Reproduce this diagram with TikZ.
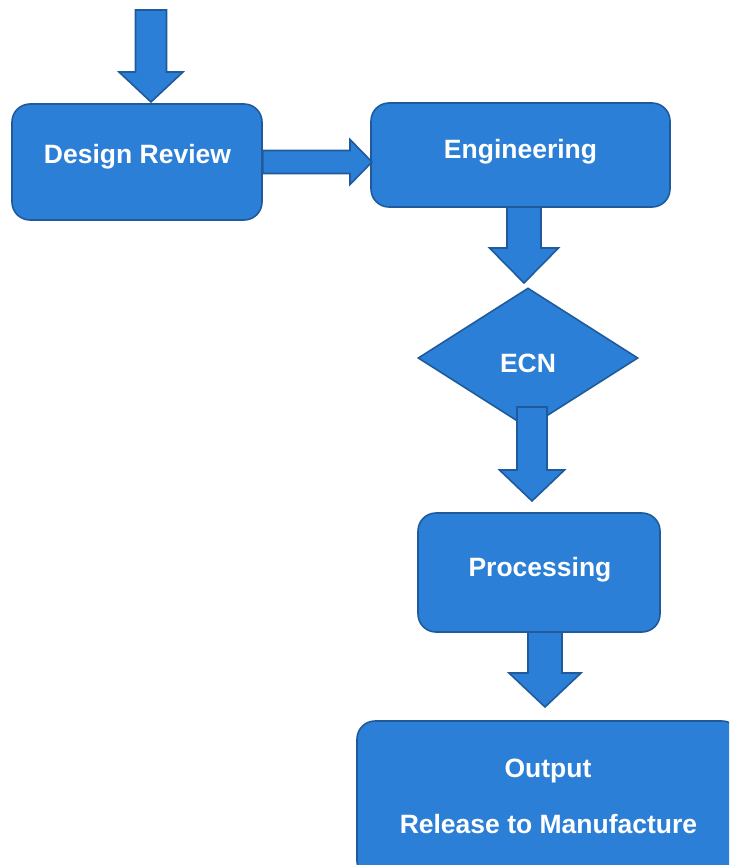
\documentclass[tikz,border=0pt]{standalone}
\usepackage{fontspec}
\setmainfont{Liberation Sans}
\usetikzlibrary{calc,shapes.geometric}

\definecolor{boxfill}{RGB}{43,127,214}
\definecolor{boxline}{RGB}{31,91,156}

% Block arrow from #1 (tail) to #2 (tip);
% #3 shaft half-width, #4 head half-width, #5 head length
\newcommand\blockarrow[5]{%
  \coordinate (ba-neck) at ($(#2)!#5!(#1)$);
  \draw[blockarrow]
    ($(#1)!#3!90:(#2)$) -- ($(ba-neck)!#3!90:(#2)$) --
    ($(ba-neck)!#4!90:(#2)$) -- (#2) --
    ($(ba-neck)!#4!-90:(#2)$) -- ($(ba-neck)!#3!-90:(#2)$) --
    ($(#1)!#3!-90:(#2)$) -- cycle;
}

\tikzset{
  shapebase/.style={draw=boxline, fill=boxfill, line width=1.6pt, inner sep=0pt},
  procbox/.style={shapebase, rectangle, rounded corners=18pt},
  decbox/.style={shapebase, diamond},
  blockarrow/.style={draw=boxline, fill=boxfill, line width=1.6pt, line join=miter},
  lbl/.style={anchor=base, text=white, inner sep=0pt,
    font=\bfseries\fontsize{26.5}{30}\selectfont},
}

\begin{document}
\begin{tikzpicture}[x=1pt, y=-1pt]
  \useasboundingbox (0,0) rectangle (729,865);
  \clip (0,0) rectangle (729,865);

  % process boxes and the decision
  \node[procbox, minimum width=250pt, minimum height=116pt] (dr)   at (137,162) {};
  \node[procbox, minimum width=299pt, minimum height=104pt] (eng)  at (520.5,155) {};
  \node[decbox,  minimum width=220pt, minimum height=140pt] (ecn)  at (528,358) {};
  \node[procbox, minimum width=242pt, minimum height=119pt] (proc) at (539,572.5) {};
  \node[procbox, minimum width=383pt, minimum height=158pt] (out)  at (548.5,800) {};

  % labels
  \node[lbl] (t-dr)   at (137.5,163) {Design Review};
  \node[lbl] (t-eng)  at (520.5,158) {Engineering};
  \node[lbl] (t-ecn)  at (528,372)   {ECN};
  \node[lbl] (t-proc) at (540,576)   {Processing};
  \node[lbl] (t-out1) at (548,777)   {Output};
  \node[lbl] (t-out2) at (548.5,833) {Release to Manufacture};

  % arrow end points
  \coordinate (in)      at (151,10);
  \coordinate (dr-in)   at (151,102);
  \coordinate (dr-out)  at (dr.east);
  \coordinate (eng-in)  at (372,162);
  \coordinate (eng-out) at (524,207);
  \coordinate (ecn-in)  at (524,283);
  \coordinate (ecn-out) at (532,407);
  \coordinate (proc-in) at (532,501);
  \coordinate (proc-out) at (545,632);
  \coordinate (out-in)  at (545,707);

  % block arrows
  \blockarrow{in}{dr-in}{15.5pt}{32pt}{30pt}
  \blockarrow{dr-out}{eng-in}{11.5pt}{22.5pt}{22pt}
  \blockarrow{eng-out}{ecn-in}{17pt}{34.5pt}{35pt}
  \blockarrow{ecn-out}{proc-in}{15pt}{32.5pt}{31pt}
  \blockarrow{proc-out}{out-in}{17pt}{36pt}{34pt}
\end{tikzpicture}
\end{document}
